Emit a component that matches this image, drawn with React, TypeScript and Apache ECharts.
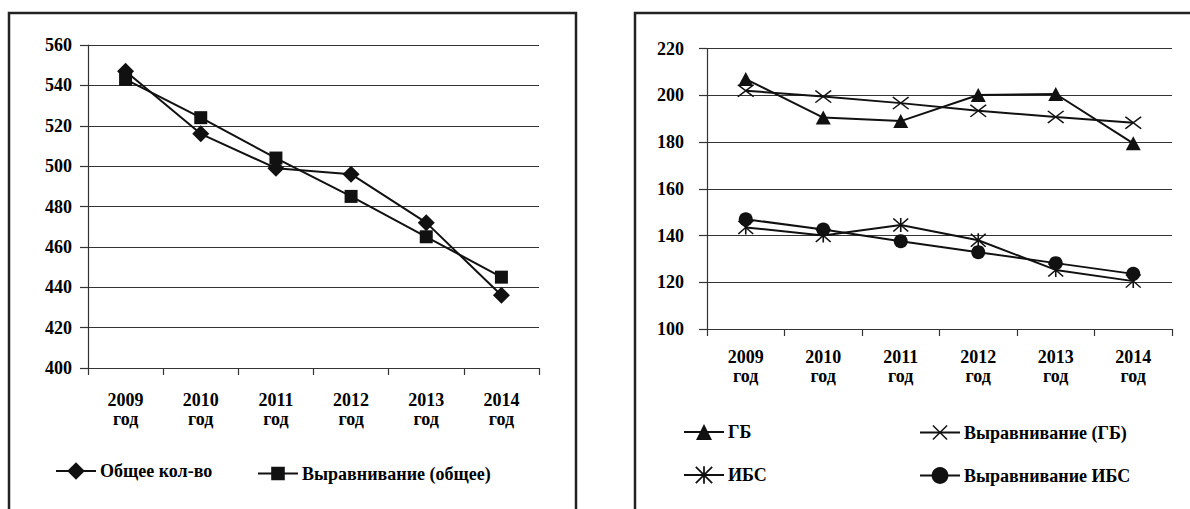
import React, { useEffect, useRef } from "react";
import * as echarts from "echarts";

const years = ["2009\nгод", "2010\nгод", "2011\nгод", "2012\nгод", "2013\nгод", "2014\nгод"];

// Left chart
const totalCount = [547, 516, 499, 496, 472, 436];
const totalTrend = [543, 524, 504, 485, 465, 445];
const leftMin = 400;
const leftMax = 560;
const leftStep = 20;

// Right chart
const gb = [207, 190.5, 189, 200.2, 200.6, 179.5];
const gbTrend = [202, 199.5, 196.7, 193.4, 190.8, 188.3];
const ibs = [143.5, 140, 144.5, 138, 125.3, 120.5];
const ibsTrend = [147, 142.6, 137.6, 132.9, 128.2, 123.6];
const rightMin = 100;
const rightMax = 220;
const rightStep = 20;

const FONT = "Liberation Serif";
const INK = "#111";
const AXIS = "#333";

const X_PATH = "path://M0,1.4 L1.4,0 L20,18.6 L18.6,20 Z M18.6,0 L20,1.4 L1.4,20 L0,18.6 Z";
const STAR_PATH =
  "path://M0,1.4 L1.4,0 L20,18.6 L18.6,20 Z M18.6,0 L20,1.4 L1.4,20 L0,18.6 Z M9,0 L11,0 L11,20 L9,20 Z";

const labelStyle = {
  fontFamily: FONT,
  fontWeight: "bold" as const,
  fontSize: 18,
  color: "#000",
};

function lineSeries(name: string, data: number[], axisIdx: number, symbol: string, size: any) {
  return {
    type: "line",
    name,
    data,
    xAxisIndex: axisIdx,
    yAxisIndex: axisIdx,
    symbol,
    symbolSize: size,
    showAllSymbol: true,
    lineStyle: { color: INK, width: 2 },
    itemStyle: { color: INK, borderColor: INK, borderWidth: 0 },
    emphasis: { disabled: true },
    z: 3,
  };
}

function legend(name: string, left: number, centerY: number, iconH: number) {
  return {
    data: [name],
    left,
    top: centerY - iconH / 2,
    padding: 0,
    itemWidth: 40,
    itemHeight: iconH,
    selectedMode: false,
    textStyle: { ...labelStyle, padding: [0, 0, 0, -1] },
  };
}

export default function App() {
  const ref = useRef<HTMLDivElement>(null);

  useEffect(() => {
    if (!ref.current) return;
    const chart = echarts.init(ref.current, undefined, { renderer: "svg" });

    const xAxisBase = {
      type: "category",
      data: years,
      boundaryGap: true,
      axisLine: { show: true, lineStyle: { color: AXIS, width: 1.2 } },
      axisTick: { show: true, length: 7, lineStyle: { color: AXIS, width: 1.2 } },
      splitLine: { show: false },
    };
    const yAxisBase = {
      type: "value",
      axisLine: { show: true, lineStyle: { color: AXIS, width: 1.2 } },
      axisTick: { show: true, length: 8, lineStyle: { color: AXIS, width: 1.2 } },
      splitLine: { show: true, lineStyle: { color: AXIS, width: 1.2 } },
    };

    chart.setOption({
      animation: false,
      backgroundColor: "#fff",
      grid: [
        { left: 88, top: 45, width: 451, height: 323 },
        { left: 707, top: 48.7, width: 465, height: 280.3 },
      ],
      xAxis: [
        { ...xAxisBase, gridIndex: 0, axisLabel: { ...labelStyle, margin: 22, lineHeight: 19 } },
        { ...xAxisBase, gridIndex: 1, axisLabel: { ...labelStyle, margin: 18, lineHeight: 19 } },
      ],
      yAxis: [
        {
          ...yAxisBase,
          gridIndex: 0,
          min: leftMin,
          max: leftMax,
          interval: leftStep,
          axisLabel: { ...labelStyle, margin: 16 },
        },
        {
          ...yAxisBase,
          gridIndex: 1,
          min: rightMin,
          max: rightMax,
          interval: rightStep,
          axisLabel: { ...labelStyle, margin: 23 },
        },
      ],
      legend: [
        legend("Общее кол-во", 55, 473, 22),
        legend("Выравнивание (общее)", 257, 473, 17),
        legend("ГБ", 683, 433, 20),
        legend("Выравнивание (ГБ)", 919, 433, 19),
        legend("ИБС", 683, 477, 22),
        legend("Выравнивание ИБС", 919, 477, 21),
      ],
      series: [
        lineSeries("Общее кол-во", totalCount, 0, "diamond", [17, 17]),
        lineSeries("Выравнивание (общее)", totalTrend, 0, "rect", 13),
        lineSeries("ГБ", gb, 1, "triangle", [15, 14]),
        lineSeries("Выравнивание (ГБ)", gbTrend, 1, X_PATH, [17, 13]),
        lineSeries("ИБС", ibs, 1, STAR_PATH, [16, 14]),
        lineSeries("Выравнивание ИБС", ibsTrend, 1, "circle", 14),
      ],
      graphic: [
        {
          type: "polyline",
          shape: { points: [[9, 515], [9, 13], [576, 13], [576, 515]] },
          style: { stroke: "#222", lineWidth: 2.5, fill: "none" },
          silent: true,
        },
        {
          type: "polyline",
          shape: { points: [[635, 515], [635, 13], [1195, 13]] },
          style: { stroke: "#222", lineWidth: 2.5, fill: "none" },
          silent: true,
        },
      ],
    });

    return () => chart.dispose();
  }, []);

  return (
    <div
      ref={ref}
      style={{ position: "absolute", left: 0, top: 0, width: 1190, height: 509, background: "#fff" }}
    />
  );
}
